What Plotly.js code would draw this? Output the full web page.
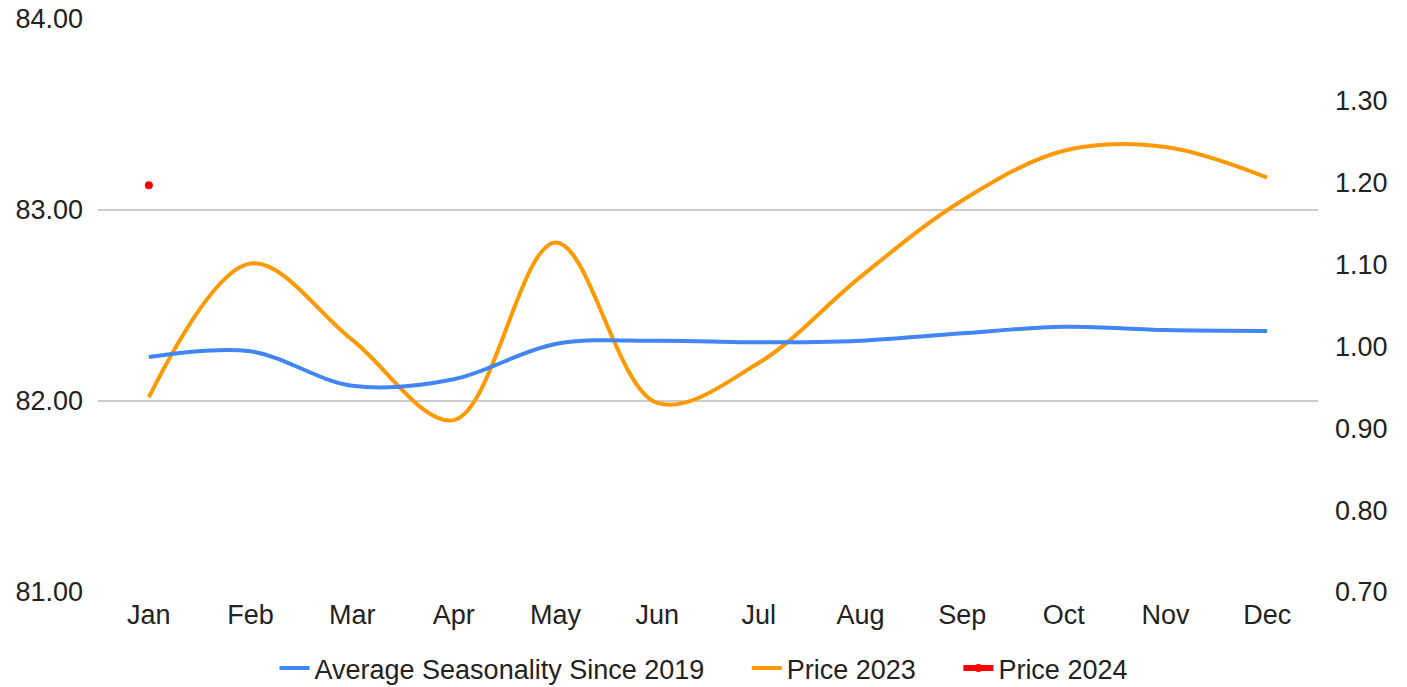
<!DOCTYPE html>
<html>
<head>
<meta charset="utf-8">
<script src="https://cdn.plot.ly/plotly-3.0.1.min.js"></script>
<style>html,body{margin:0;padding:0;background:#fff;}#chart{width:1407px;height:687px;}</style>
</head>
<body>
<div id="chart"></div>
<script>
var months = ['Jan','Feb','Mar','Apr','May','Jun','Jul','Aug','Sep','Oct','Nov','Dec'];
var avgSeasonality = [0.987, 0.994, 0.952, 0.960, 1.003, 1.007, 1.005, 1.007, 1.016, 1.024, 1.020, 1.019];
var price2023 = [82.02, 82.72, 82.32, 81.90, 82.83, 81.99, 82.20, 82.65, 83.05, 83.31, 83.33, 83.17];
var price2024Months = ['Jan'];
var price2024 = [83.13];
var leftTicks = [81, 82, 83, 84];
var rightTicks = [0.7, 0.8, 0.9, 1.0, 1.1, 1.2, 1.3];
var seriesNames = ['Average Seasonality Since 2019', 'Price 2023', 'Price 2024'];

var pad = '\u00a0\u00a0\u00a0\u00a0\u00a0';
var fontFam = 'Liberation Sans, Arial, sans-serif';
var fs = 27;
var traces = [
  {x: months, y: avgSeasonality, name: seriesNames[0] + pad, yaxis: 'y2',
   mode: 'lines', line: {color: '#4285F4', width: 4, shape: 'spline', smoothing: 1}},
  {x: months, y: price2023, name: seriesNames[1] + pad, yaxis: 'y',
   mode: 'lines', line: {color: '#FF9900', width: 4, shape: 'spline', smoothing: 1}},
  {x: price2024Months, y: price2024, name: seriesNames[2], yaxis: 'y',
   mode: 'lines+markers', line: {color: '#FF0000', width: 6}, marker: {color: '#FF0000', size: 8}}
];
var layout = {
  width: 1407, height: 687,
  margin: {l: 98, r: 89, t: 19, b: 95},
  paper_bgcolor: '#fff', plot_bgcolor: '#fff',
  font: {family: fontFam, size: fs, color: '#222'},
  showlegend: true,
  legend: {orientation: 'h', x: 0.5, xanchor: 'center', xref: 'container', y: 0.027, yanchor: 'middle', yref: 'container',
           font: {size: fs, color: '#222'}, itemwidth: 30, traceorder: 'normal'},
  xaxis: {type: 'category', categoryarray: months, range: [-0.5, 11.5], showgrid: false, zeroline: false,
          showline: false, ticks: '', ticklabelstandoff: 4, tickfont: {size: fs, color: '#222'}},
  yaxis: {range: [81, 84], tickvals: leftTicks, ticktext: leftTicks.map(function(v){return v.toFixed(2);}),
          showgrid: true, gridcolor: '#cccccc', gridwidth: 1.5, zeroline: false, showline: false,
          ticks: '', ticklabelstandoff: 14, tickfont: {size: fs, color: '#222'}},
  yaxis2: {range: [0.7, 1.4], overlaying: 'y', side: 'right', tickvals: rightTicks,
           ticktext: rightTicks.map(function(v){return v.toFixed(2);}), showgrid: false, zeroline: false,
           showline: false, ticks: '', ticklabelstandoff: 16, tickfont: {size: fs, color: '#222'}}
};
Plotly.newPlot('chart', traces, layout, {displayModeBar: false, staticPlot: true});
</script>
</body>
</html>
